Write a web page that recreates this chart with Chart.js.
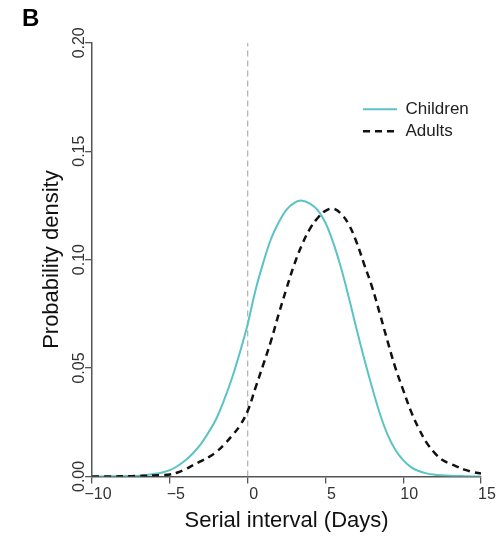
<!DOCTYPE html>
<html>
<head>
<meta charset="utf-8">
<script src="https://cdn.jsdelivr.net/npm/chart.js@4.4.1/dist/chart.umd.min.js"></script>
<style>
  html, body { margin: 0; padding: 0; background: #fff; }
  #wrap { width: 500px; height: 540px; }
</style>
</head>
<body>
<div id="wrap"><canvas id="siChart" width="500" height="540"></canvas></div>
<script>
// serial interval (days), sampled every half day
const days = [-10, -9.5, -9, -8.5, -8, -7.5, -7, -6.5, -6, -5.5, -5, -4.5, -4, -3.5, -3, -2.5, -2, -1.5, -1, -0.5,
  0, 0.5, 1, 1.5, 2, 2.5, 3, 3.5, 4, 4.5, 5, 5.5, 6, 6.5, 7, 7.5, 8, 8.5, 9, 9.5,
  10, 10.5, 11, 11.5, 12, 12.5, 13, 13.5, 14, 14.5, 15];

const childrenDensity = [0, 0, 0, 0.0001, 0.0001, 0.0002, 0.0003, 0.0006, 0.0011, 0.0018, 0.0029, 0.0048, 0.0074, 0.0108, 0.015, 0.0205, 0.0268, 0.0355, 0.0455, 0.0572,
  0.0702, 0.0858, 0.0985, 0.1095, 0.1172, 0.123, 0.1262, 0.1272, 0.1258, 0.1228, 0.117, 0.1078, 0.0962, 0.0826, 0.068, 0.054, 0.041, 0.0289, 0.0192, 0.0122,
  0.0075, 0.0043, 0.0025, 0.0014, 0.0008, 0.0005, 0.0003, 0.0002, 0.0001, 0, 0];

const adultsDensity = [0, 0, 0, 0, 0.0001, 0.0001, 0.0002, 0.0003, 0.0004, 0.0006, 0.0009, 0.0018, 0.0033, 0.0052, 0.007, 0.0089, 0.0114, 0.0148, 0.0188, 0.0234,
  0.0302, 0.0408, 0.0515, 0.0625, 0.075, 0.0867, 0.0978, 0.107, 0.1142, 0.1192, 0.1225, 0.1235, 0.1212, 0.1162, 0.108, 0.0976, 0.0873, 0.075, 0.0622, 0.05,
  0.0398, 0.03, 0.0221, 0.0156, 0.011, 0.0077, 0.0059, 0.0044, 0.003, 0.002, 0.0013];

// vertical reference line at day 0
const refLineX = [0, 0];
const refLineY = [0, 0.2];

const xTicks = [-10, -5, 0, 5, 10, 15];
const yTicks = [0, 0.05, 0.1, 0.15, 0.2];

const toPoints = (xs, ys) => xs.map((x, i) => ({ x: x, y: ys[i] }));

const FONT = '"Liberation Sans", Arial, Helvetica, sans-serif';

// put the legend in the upper right of the plot
const legendPlacer = {
  id: 'legendPlacer',
  afterUpdate(chart) {
    const lg = chart.legend;
    const area = chart.chartArea;
    lg.left = area.right - 123;
    lg.right = lg.left + 140;
    lg.top = area.top + 53;
    lg.bottom = lg.top + 200;
  }
};

new Chart(document.getElementById('siChart').getContext('2d'), {
  type: 'line',
  data: {
    datasets: [{
      label: 'Children',
      data: toPoints(days, childrenDensity),
      borderColor: '#5cc3c4',
      borderWidth: 2,
      pointRadius: 0,
      pointStyle: 'line',
      tension: 0.4,
      order: 2
    }, {
      label: 'Adults',
      data: toPoints(days, adultsDensity),
      borderColor: '#111111',
      borderWidth: 2.5,
      borderDash: [7, 5],
      pointRadius: 0,
      pointStyle: 'line',
      tension: 0.4,
      order: 1
    }, {
      label: 'ref',
      data: toPoints(refLineX, refLineY),
      borderColor: '#b5b5b5',
      borderWidth: 1.3,
      borderDash: [6, 4],
      pointRadius: 0,
      order: 3
    }]
  },
  options: {
    responsive: false,
    animation: false,
    layout: { padding: { left: 22, right: 19, top: 0, bottom: 2 } },
    plugins: {
      tooltip: { enabled: false },
      title: {
        display: true,
        text: 'B',
        align: 'start',
        color: '#000',
        font: { family: FONT, size: 24, weight: 'bold' },
        padding: { top: 5, bottom: 9 }
      },
      legend: {
        position: 'chartArea',
        align: 'start',
        labels: {
          filter: item => item.text !== 'ref',
          sort: (a, b) => a.datasetIndex - b.datasetIndex,
          generateLabels: chart => {
            const items = Chart.defaults.plugins.legend.labels.generateLabels(chart);
            items.forEach(it => {
              const ds = chart.data.datasets[it.datasetIndex];
              it.lineDash = ds.borderDash || [];
              it.strokeStyle = ds.borderColor;
              it.lineWidth = ds.borderWidth;
            });
            return items;
          },
          usePointStyle: true,
          pointStyleWidth: 34,
          padding: 5,
          color: '#222',
          font: { family: FONT, size: 17 }
        }
      }
    },
    scales: {
      x: {
        type: 'linear',
        min: -10,
        max: 15,
        afterBuildTicks: scale => { scale.ticks = xTicks.map(v => ({ value: v })); },
        grid: { drawOnChartArea: false, drawTicks: true, tickLength: 7, color: '#555', lineWidth: 1.3 },
        border: { display: true, color: '#555', width: 1.5 },
        ticks: {
          padding: 2,
          labelOffset: 6,
          color: '#333',
          font: { family: FONT, size: 16 },
          callback: v => (v < 0 ? '\u2212' + Math.abs(v) : String(v))
        },
        title: {
          display: true,
          text: 'Serial interval (Days)',
          color: '#111',
          font: { family: FONT, size: 22 },
          padding: { top: 1, bottom: 4 }
        }
      },
      y: {
        type: 'linear',
        min: 0,
        max: 0.2,
        afterBuildTicks: scale => { scale.ticks = yTicks.map(v => ({ value: v })); },
        grid: { drawOnChartArea: false, drawTicks: true, tickLength: 7, color: '#555', lineWidth: 1.3 },
        border: { display: true, color: '#555', width: 1.5 },
        ticks: {
          minRotation: 90,
          maxRotation: 90,
          crossAlign: 'center',
          padding: -10,
          color: '#333',
          font: { family: FONT, size: 16 },
          callback: v => v.toFixed(2)
        },
        title: {
          display: true,
          text: 'Probability density',
          color: '#111',
          font: { family: FONT, size: 22 },
          padding: { top: 17, bottom: 20.5 }
        }
      }
    }
  },
  plugins: [legendPlacer]
});
</script>
</body>
</html>
